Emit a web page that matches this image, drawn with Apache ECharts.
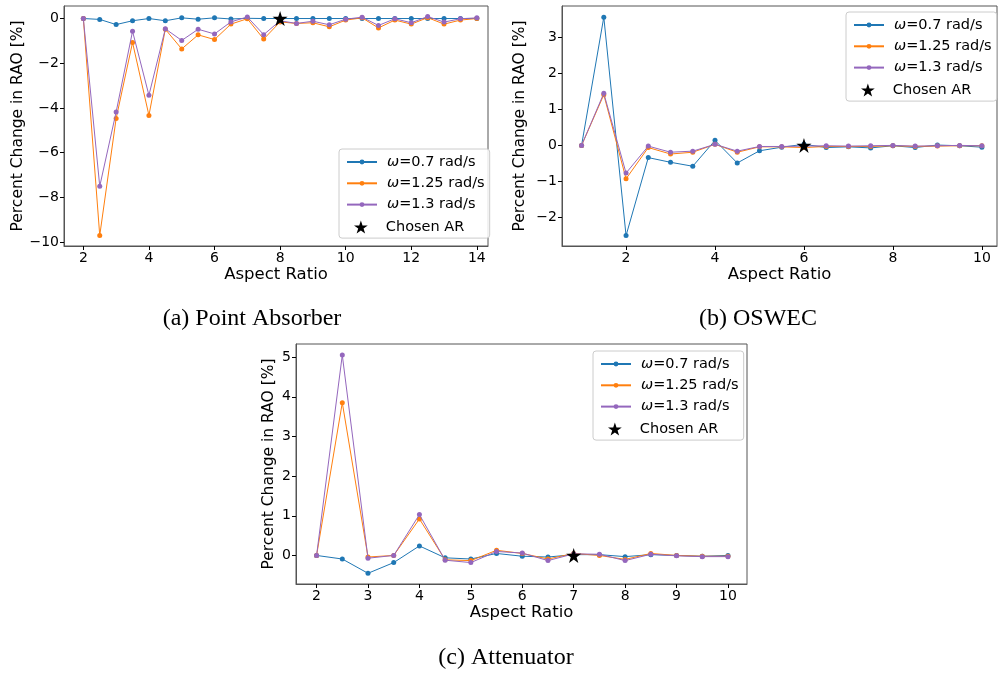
<!DOCTYPE html>
<html>
<head>
<meta charset="utf-8">
<script src="https://cdn.jsdelivr.net/npm/echarts@6/dist/echarts.min.js"></script>
<style>
html,body{margin:0;padding:0;background:#fff;}
#chart{width:998px;height:673px;}
</style>
</head>
<body>
<div id="chart"></div>
<script>
// ---------- Data ----------
const seriesNames = ['ω=0.7 rad/s', 'ω=1.25 rad/s', 'ω=1.3 rad/s'];
const starName = 'Chosen AR';
const captions = ['(a) Point Absorber', '(b) OSWEC', '(c) Attenuator'];

// (a) Point Absorber
const arA = [2, 2.5, 3, 3.5, 4, 4.5, 5, 5.5, 6, 6.5, 7, 7.5, 8, 8.5, 9, 9.5, 10, 10.5, 11, 11.5, 12, 12.5, 13, 13.5, 14];
const a07 = [0, -0.04, -0.27, -0.1, 0, -0.1, 0.03, -0.03, 0.03, -0.02, 0.01, 0, 0, 0, 0, 0, 0, 0, 0, 0, 0, 0, 0, 0, 0];
const a125 = [0, -9.7, -4.47, -1.07, -4.33, -0.48, -1.36, -0.73, -0.94, -0.25, -0.01, -0.92, -0.15, -0.22, -0.19, -0.37, -0.07, 0.03, -0.42, -0.07, -0.25, 0.04, -0.25, -0.07, 0];
const a13 = [0, -7.5, -4.18, -0.57, -3.43, -0.46, -0.98, -0.48, -0.69, -0.15, 0.07, -0.72, -0.1, -0.22, -0.12, -0.28, -0.03, 0.06, -0.31, -0.01, -0.19, 0.09, -0.16, -0.01, 0.03];
const starA = [8, 0];
const xTicksA = [2, 4, 6, 8, 10, 12, 14];
const yTicksA = [-10, -8, -6, -4, -2, 0];

// (b) OSWEC
const arB = [1, 1.5, 2, 2.5, 3, 3.5, 4, 4.5, 5, 5.5, 6, 6.5, 7, 7.5, 8, 8.5, 9, 9.5, 10];
const b07 = [0, 3.57, -2.51, -0.34, -0.47, -0.58, 0.14, -0.49, -0.15, -0.05, 0.03, -0.06, -0.04, -0.07, -0.01, -0.06, 0.01, -0.01, -0.05];
const b125 = [0, 1.41, -0.93, -0.06, -0.24, -0.19, 0.03, -0.19, -0.04, -0.04, -0.06, -0.03, -0.03, -0.03, -0.01, -0.03, -0.02, -0.01, -0.01];
const b13 = [0, 1.45, -0.77, -0.02, -0.19, -0.16, 0.03, -0.16, -0.03, -0.03, -0.02, -0.01, -0.02, -0.01, 0, -0.02, -0.01, 0, -0.01];
const starB = [6, 0];
const xTicksB = [2, 4, 6, 8, 10];
const yTicksB = [-2, -1, 0, 1, 2, 3];

// (c) Attenuator
const arC = [2, 2.5, 3, 3.5, 4, 4.5, 5, 5.5, 6, 6.5, 7, 7.5, 8, 8.5, 9, 9.5, 10];
const c07 = [0, -0.09, -0.45, -0.18, 0.24, -0.06, -0.09, 0.05, -0.02, -0.04, 0.02, 0.02, -0.03, 0.02, 0, -0.02, 0];
const c125 = [0, 3.85, -0.04, 0, 0.92, -0.11, -0.13, 0.13, 0.05, -0.09, 0.05, 0, -0.1, 0.05, 0, -0.02, -0.02];
const c13 = [0, 5.05, -0.07, 0, 1.03, -0.12, -0.18, 0.1, 0.06, -0.13, 0.04, 0.03, -0.13, 0.03, -0.01, -0.03, -0.03];
const starC = [7, 0];
const xTicksC = [2, 3, 4, 5, 6, 7, 8, 9, 10];
const yTicksC = [0, 1, 2, 3, 4, 5];

// ---------- Styling ----------
const colors = ['#1f77b4', '#ff7f0e', '#9467bd'];
const FONT = 'DejaVu Sans';
const STAR = 'path://M50,0 L61.8,35.4 L99,35.4 L69,57.3 L80.3,92.7 L50,70.8 L19.7,92.7 L31,57.3 L1,35.4 L38.2,35.4 Z';
const spine = '#555';

function fmt(v) { return v < 0 ? '\u2212' + Math.abs(v) : String(v); }
function zip(xs, ys) { return xs.map((x, i) => [x, ys[i]]); }

const panels = [
  {grid: {left: 64, top: 6, width: 424, height: 240}, x: [1.41, 14.34], y: [-10.17, 0.56], xt: xTicksA, yt: yTicksA, nameGap: 36,
   ar: arA, d: [a07, a125, a13], star: starA, leg: [339, 149]},
  {grid: {left: 562, top: 6, width: 435, height: 240}, x: [0.56, 10.34], y: [-2.80, 3.88], xt: xTicksB, yt: yTicksB, nameGap: 34,
   ar: arB, d: [b07, b125, b13], star: starB, leg: [846, 12]},
  {grid: {left: 296, top: 344, width: 451, height: 240}, x: [1.6, 10.37], y: [-0.72, 5.33], xt: xTicksC, yt: yTicksC, nameGap: 19,
   ar: arC, d: [c07, c125, c13], star: starC, leg: [593, 351]}
];

const grids = [], xAxes = [], yAxes = [], series = [], legends = [];
const legText = {fontFamily: FONT, fontSize: 14.5, color: '#000', padding: [0, 0, 0, 5],
  rich: {i: {fontFamily: FONT, fontSize: 14.5, fontStyle: 'italic', color: '#000'}}};

panels.forEach((p, gi) => {
  grids.push(Object.assign({show: true, borderColor: spine, borderWidth: 1, backgroundColor: 'transparent'}, p.grid));
  xAxes.push({
    type: 'value', gridIndex: gi, min: p.x[0], max: p.x[1],
    name: 'Aspect Ratio', nameLocation: 'middle', nameGap: 20,
    nameTextStyle: {fontFamily: FONT, fontSize: 16.5, color: '#000', verticalAlign: 'top'},
    axisLine: {show: true, onZero: false, lineStyle: {color: spine, width: 1}},
    axisTick: {show: true, length: 4, lineStyle: {color: '#000'}, customValues: p.xt},
    axisLabel: {customValues: p.xt, fontFamily: FONT, fontSize: 14, color: '#000', margin: 5, formatter: fmt},
    splitLine: {show: false}
  });
  yAxes.push({
    type: 'value', gridIndex: gi, min: p.y[0], max: p.y[1],
    name: 'Percent Change in RAO [%]', nameLocation: 'middle', nameGap: p.nameGap, nameRotate: 90,
    nameTextStyle: {fontFamily: FONT, fontSize: 15.5, color: '#000'},
    axisLine: {show: true, onZero: false, lineStyle: {color: spine, width: 1}},
    axisTick: {show: true, length: 4, lineStyle: {color: '#000'}, customValues: p.yt},
    axisLabel: {customValues: p.yt, fontFamily: FONT, fontSize: 14, color: '#000', margin: 5, formatter: fmt},
    splitLine: {show: false}
  });
  p.d.forEach((vals, si) => {
    series.push({
      name: seriesNames[si], type: 'line', xAxisIndex: gi, yAxisIndex: gi,
      data: zip(p.ar, vals), symbol: 'circle', symbolSize: 5, showSymbol: true,
      lineStyle: {width: 1, color: colors[si]}, itemStyle: {color: colors[si]},
      emphasis: {disabled: true}, animation: false, z: 2 + si
    });
  });
  series.push({
    name: starName, type: 'scatter', xAxisIndex: gi, yAxisIndex: gi,
    data: [p.star], symbol: STAR, symbolSize: 15, itemStyle: {color: '#000', opacity: 1},
    emphasis: {disabled: true}, animation: false, z: 10
  });
  // box legend with the three lines (extra bottom padding leaves room for the star row)
  legends.push({
    left: p.leg[0], top: p.leg[1], orient: 'vertical', itemWidth: 30, itemHeight: 6, itemGap: 6.3,
    padding: [5.5, 5, 26, 7], borderColor: '#ccc', borderWidth: 1, borderRadius: 3,
    backgroundColor: 'rgba(255,255,255,0.85)', selectedMode: false,
    data: seriesNames.slice(), textStyle: legText,
    formatter: n => '{i|ω}' + n.slice(1), z: 5
  });
  // star row
  legends.push({
    left: p.leg[0] + 15, top: p.leg[1] + 70.5, orient: 'vertical', itemWidth: 30, itemHeight: 13,
    padding: 0, selectedMode: false, data: [starName], itemStyle: {opacity: 1},
    textStyle: {fontFamily: FONT, fontSize: 14.5, color: '#000', padding: [0, 0, 0, 5]}, z: 6
  });
});

const capStyle = {fontFamily: 'Liberation Serif', fontSize: 24, fill: '#000', textAlign: 'center', textVerticalAlign: 'middle'};
const graphics = [
  {type: 'text', x: 252, y: 319, style: Object.assign({text: captions[0]}, capStyle)},
  {type: 'text', x: 758, y: 319, style: Object.assign({text: captions[1]}, capStyle)},
  {type: 'text', x: 506, y: 658, style: Object.assign({text: captions[2]}, capStyle)}
];

const chart = echarts.init(document.getElementById('chart'), null, {renderer: 'canvas'});
chart.setOption({
  animation: false,
  backgroundColor: '#fff',
  grid: grids, xAxis: xAxes, yAxis: yAxes, series: series,
  legend: legends,
  graphic: graphics
});
</script>
</body>
</html>
